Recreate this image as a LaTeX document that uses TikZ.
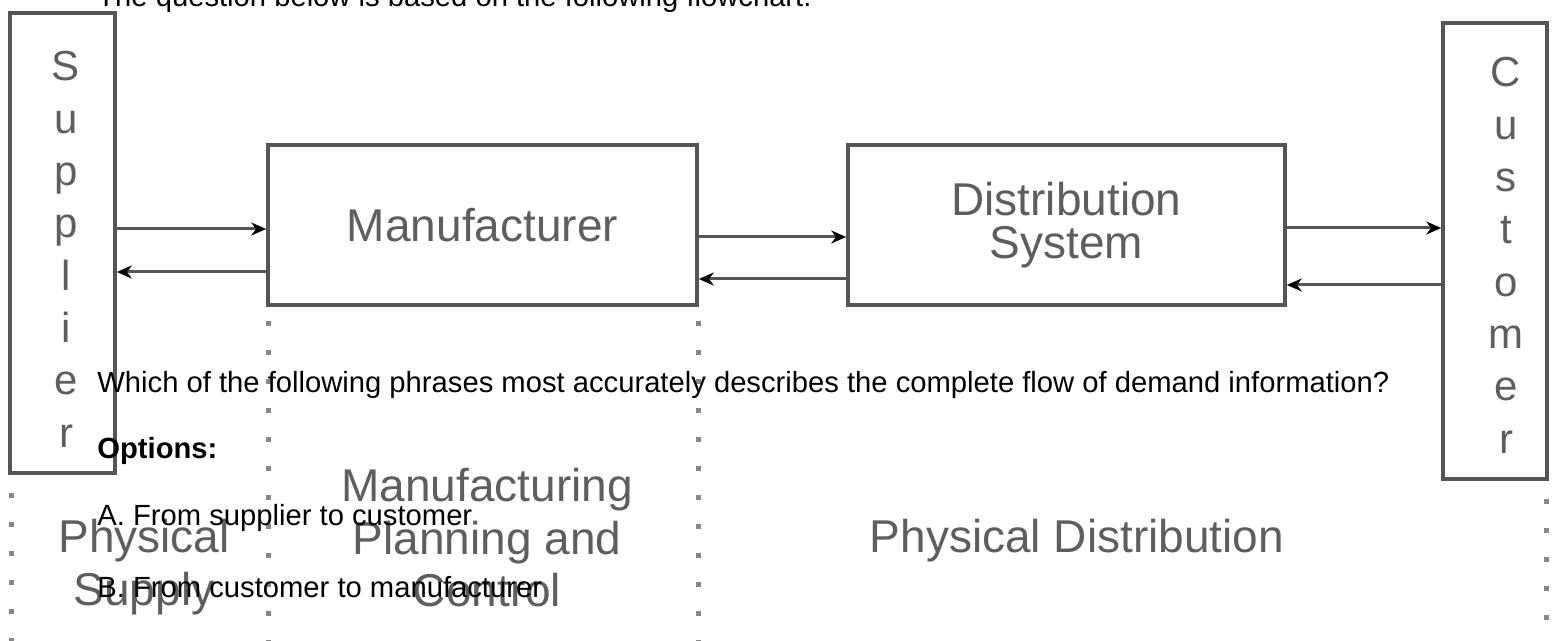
\documentclass[tikz,border=0pt]{standalone}
\usepackage{fontspec}
\setmainfont{Liberation Sans}
\usetikzlibrary{arrows.meta}
\definecolor{boxgray}{HTML}{555555}
\definecolor{textgray}{HTML}{5E5E5E}
\begin{document}
\begin{tikzpicture}
[x=0.5pt,y=-0.5pt,%
  box/.style={draw=boxgray,line width=1.8pt,inner sep=0pt,text=textgray,align=center},%
  big/.style={font=\fontsize{23}{21.5}\selectfont},%
  letter/.style={text=textgray,anchor=base,inner sep=0pt,font=\fontsize{21}{21}\selectfont},%
  flow/.style={draw=boxgray,line width=1.5pt,-{Stealth[length=7.5pt,width=6.5pt,color=black]}},%
  sep/.style={draw=boxgray!70,line width=2.5pt,dash pattern=on 2.5pt off 12pt},%
  tag/.style={text=textgray,align=center,font=\fontsize{23}{26.25}\selectfont},%
  ask/.style={anchor=base west,inner sep=0pt,font=\fontsize{14.6}{17}\selectfont}]
\useasboundingbox (0,0) rectangle (1554,641);
\clip (0,0) rectangle (1554,641);
\node[box,minimum width=52.5pt,minimum height=230pt] (sup) at (62.5,243) {};
\node[box,minimum width=52pt,minimum height=228pt] (cus) at (1495,251) {};
\foreach \ch [count=\i] in {S,u,p,p,l,i,e,r}
  \node[letter] (sup\i) at (66,{81+52.3*(\i-1)}) {\ch};
\foreach \ch [count=\i] in {C,u,s,t,o,m,e,r}
  \node[letter] (cus\i) at (1506,{87+52.3*(\i-1)}) {\ch};
\node[box,big,minimum width=214.5pt,minimum height=80pt] (man) at (482.5,225)
  {Manufacturer};
\node[box,big,minimum width=218.5pt,minimum height=80pt] (dis) at (1066.5,225)
  {Distribution\\System};
\draw[flow] (sup.east |- 0,229) -- (man.west |- 0,229);
\draw[flow] (man.west |- 0,272) -- (sup.east |- 0,272);
\draw[flow] (man.east |- 0,237) -- (dis.west |- 0,237);
\draw[flow] (dis.west |- 0,279) -- (man.east |- 0,279);
\draw[flow] (dis.east |- 0,228) -- (cus.west |- 0,228);
\draw[flow] (cus.west |- 0,285) -- (dis.east |- 0,285);
\coordinate (bot) at (0,660);
\draw[sep] ([xshift=1.5pt,yshift=-9pt]sup.south west) -- ([xshift=1.5pt]sup.south west |- bot);
\draw[sep] ([xshift=1pt,yshift=-7pt]man.south west) -- ([xshift=1pt]man.south west |- bot);
\draw[sep] ([yshift=-7pt]man.south east) -- (man.south east |- bot);
\draw[sep] ([xshift=-1pt,yshift=-9pt]cus.south east) -- ([xshift=-1pt]cus.south east |- bot);
\node[tag] (psup) at (144,567) {Physical\\Supply};
\node[tag] (mpc) at (487,538) {Manufacturing\\Planning and\\Control};
\node[tag,anchor=base] (pdis) at (1077,553) {Physical Distribution};
\node[ask] (title) at (97,7) {The question below is based on the following flowchart:};
\node[ask] (quest) at (97,393) {Which of the following phrases most accurately describes the complete flow of demand information?};
\node[ask,font=\fontsize{14.6}{17}\selectfont\bfseries] (opts) at (97,459) {Options:};
\node[ask] (opta) at (97,526) {A. From supplier to customer};
\node[ask] (optb) at (97,597) {B. From customer to manufacturer};
\end{tikzpicture}
\end{document}
